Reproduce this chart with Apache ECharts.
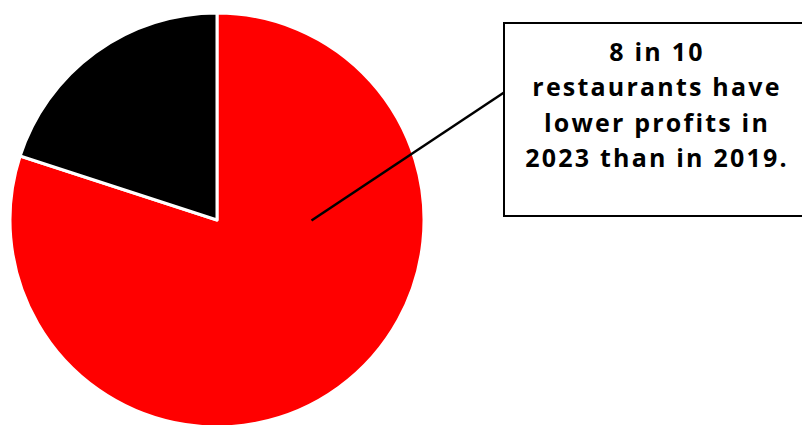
<!DOCTYPE html>
<html>
<head>
<meta charset="utf-8">
<script src="https://cdn.jsdelivr.net/npm/echarts@6/dist/echarts.min.js"></script>
<style>html,body{margin:0;padding:0;background:#fff;}#c{width:802px;height:425px;}#c text{letter-spacing:2.2px;}</style>
</head>
<body>
<div id="c"></div>
<script>
var categories = ['Lower profits in 2023 than 2019', 'Not lower'];
var values = [80, 20];
var colors = ['#ff0000', '#000000'];
var annotationLines = ['8 in 10', 'restaurants have', 'lower profits in', '2023 than in 2019.'];

var chart = echarts.init(document.getElementById('c'), null, {renderer: 'svg'});
chart.setOption({
  animation: false,
  backgroundColor: '#ffffff',
  series: [{
    type: 'pie',
    center: [217, 220],
    radius: [0, 207],
    startAngle: 90,
    clockwise: true,
    label: {show: false},
    labelLine: {show: false},
    silent: true,
    itemStyle: {borderColor: '#ffffff', borderWidth: 3},
    data: categories.map(function (c, i) {
      return {name: c, value: values[i], itemStyle: {color: colors[i]}};
    })
  }],
  graphic: [
    {
      type: 'line',
      shape: {x1: 311.5, y1: 220.5, x2: 504, y2: 92.5},
      style: {stroke: '#000', lineWidth: 2.5},
      z: 10
    },
    {
      type: 'rect',
      shape: {x: 504, y: 23, width: 306, height: 193},
      style: {fill: '#ffffff', stroke: '#000', lineWidth: 2},
      z: 11
    },
    {
      type: 'text',
      x: 657,
      y: 104,
      style: {
        text: annotationLines.join('\n'),
        font: 'bold 25px "Open Sans"',
        fill: '#000',
        align: 'center',
        verticalAlign: 'middle',
        lineHeight: 35.5
      },
      z: 12
    }
  ]
});
</script>
</body>
</html>
